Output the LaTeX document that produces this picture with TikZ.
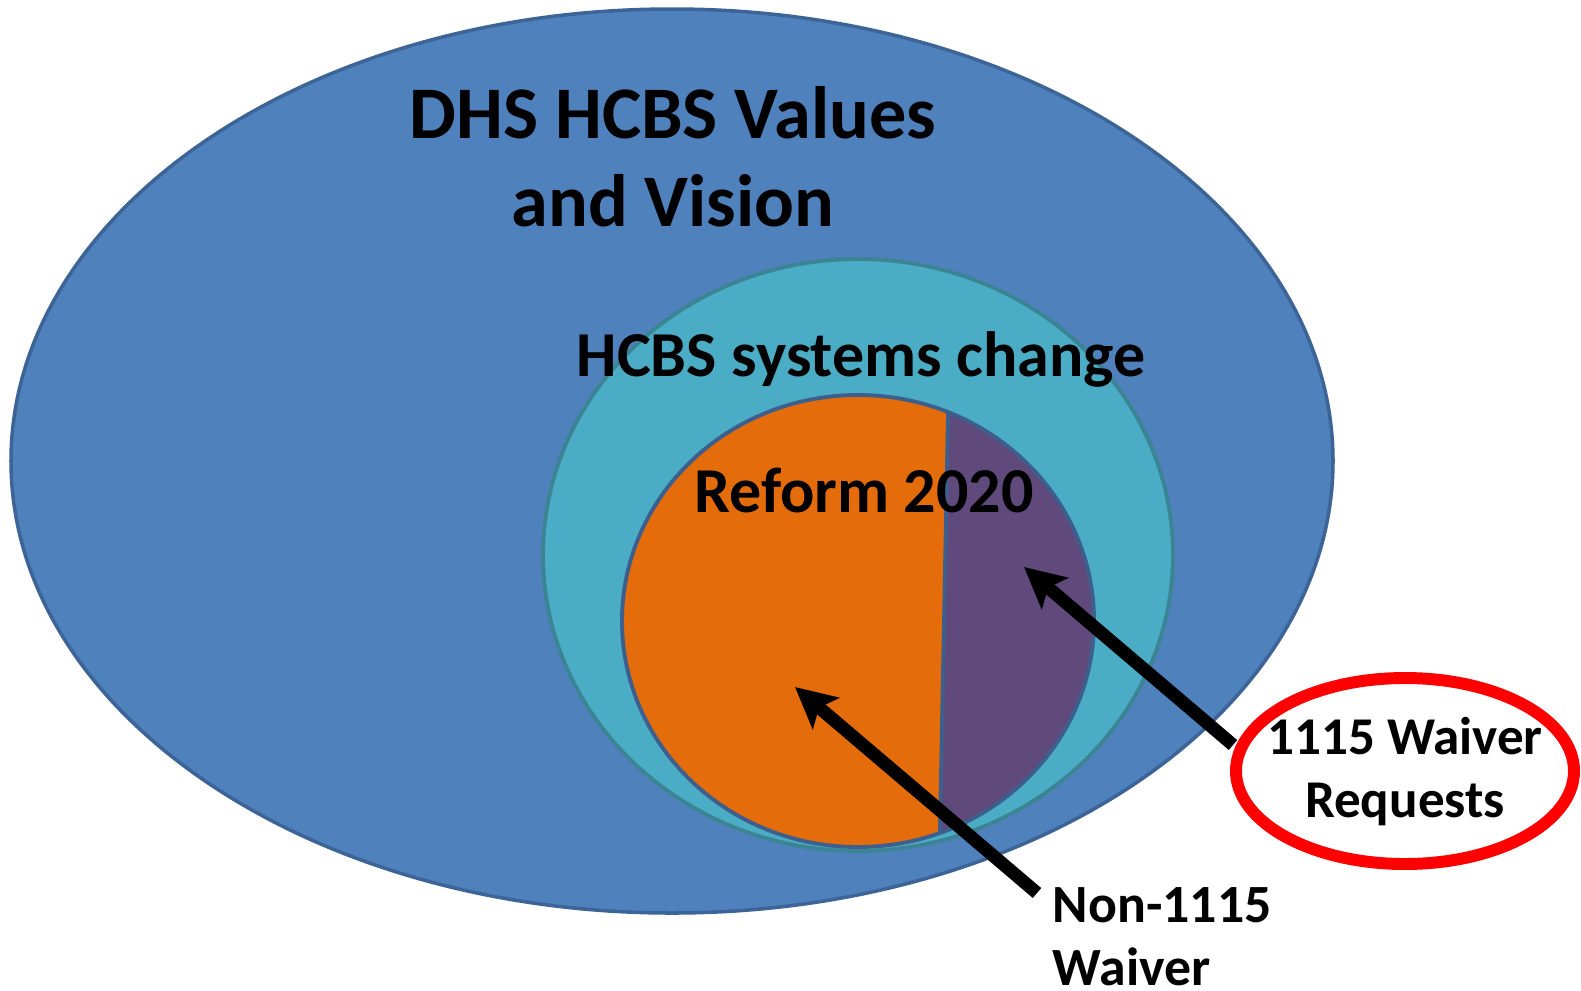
\documentclass[tikz,border=0pt]{standalone}
\usepackage{fontspec}
\setmainfont{Carlito}
\usepackage{xcolor}
\usepackage{tikz}
\usetikzlibrary{arrows.meta}

\definecolor{valuesblue}{HTML}{4F81BD}
\definecolor{valuesline}{HTML}{3C6496}
\definecolor{systemsteal}{HTML}{4BACC6}
\definecolor{systemsline}{HTML}{3A8494}
\definecolor{reformorange}{HTML}{E46C0A}
\definecolor{waiverpurple}{HTML}{604A7B}
\definecolor{reformline}{HTML}{3C5F8E}

\begin{document}
\begin{tikzpicture}[x=0.01cm, y=-0.01cm, font=\bfseries,
  lbl/.style={align=center, inner sep=0pt},
  pointer/.style={line width=3.7pt, -{Stealth[length=11.5pt, width=11.5pt, inset=2.5pt]}}]

%---------------- 尺寸參數 ----------------%
\def\valX{672}   \def\valY{461}  % 外橢圓中心
\def\sysX{858}   \def\sysY{555}  % 中間橢圓中心
\def\refX{858}   \def\refY{621}  % 內圓中心
\def\reqX{1405}  \def\reqY{771}  % 紅圈中心

\useasboundingbox (0,0) rectangle (1581,990);

%---------------- 外橢圓 ----------------%
\draw[valuesline, fill=valuesblue, line width=1pt]
  (\valX,\valY) ellipse [x radius=661, y radius=452];

%---------------- 中間橢圓 ----------------%
\draw[systemsline, fill=systemsteal, line width=1.1pt]
  (\sysX,\sysY) ellipse [x radius=315, y radius=296];

%---------------- 內圓 (Reform 2020) ----------------%
\fill[reformorange] (\refX,\refY) ellipse [x radius=236, y radius=226];
\begin{scope}
  \clip (\refX,\refY) ellipse [x radius=236, y radius=226];
  \fill[waiverpurple] (948.7,380) -- (1110,380) -- (1110,870) -- (939.2,870) -- cycle;
  \draw[reformline, line width=1.1pt] (948.7,380) -- (939.2,870);
\end{scope}
\draw[reformline, line width=1.1pt] (\refX,\refY) ellipse [x radius=236, y radius=226];

%---------------- 文字 (base = 最後一行基線) ----------------%
\node[lbl, anchor=base, font=\bfseries\fontsize{21.1}{25}\selectfont] (values) at (673,226)
  {DHS HCBS Values\\and Vision};
\node[lbl, anchor=base, font=\bfseries\fontsize{18.2}{22}\selectfont] (systems) at (861,376)
  {HCBS systems change};
\node[lbl, anchor=base, font=\bfseries\fontsize{18.2}{22}\selectfont] (reform) at (864,512)
  {Reform 2020};
\node[lbl, anchor=base, font=\bfseries\fontsize{15.1}{17.8}\selectfont] (req) at (\reqX,817)
  {1115 Waiver\\Requests};
\node[lbl, align=left, anchor=base west, font=\bfseries\fontsize{15.3}{17.8}\selectfont] (nonw) at (1052,985)
  {Non-1115\\Waiver};

%---------------- 箭頭 ----------------%
\coordinate (purpletip) at (1024,567);
\coordinate (reqtail)   at (1233,745);
\coordinate (orangetip) at (795,687);
\coordinate (nontail)   at (1037,893);
\draw[pointer] (reqtail) -- (purpletip);
\draw[pointer] (nontail) -- (orangetip);

% 紅圈
\draw[red, line width=3.4pt] (\reqX,\reqY) ellipse [x radius=169, y radius=93];

\end{tikzpicture}
\end{document}
